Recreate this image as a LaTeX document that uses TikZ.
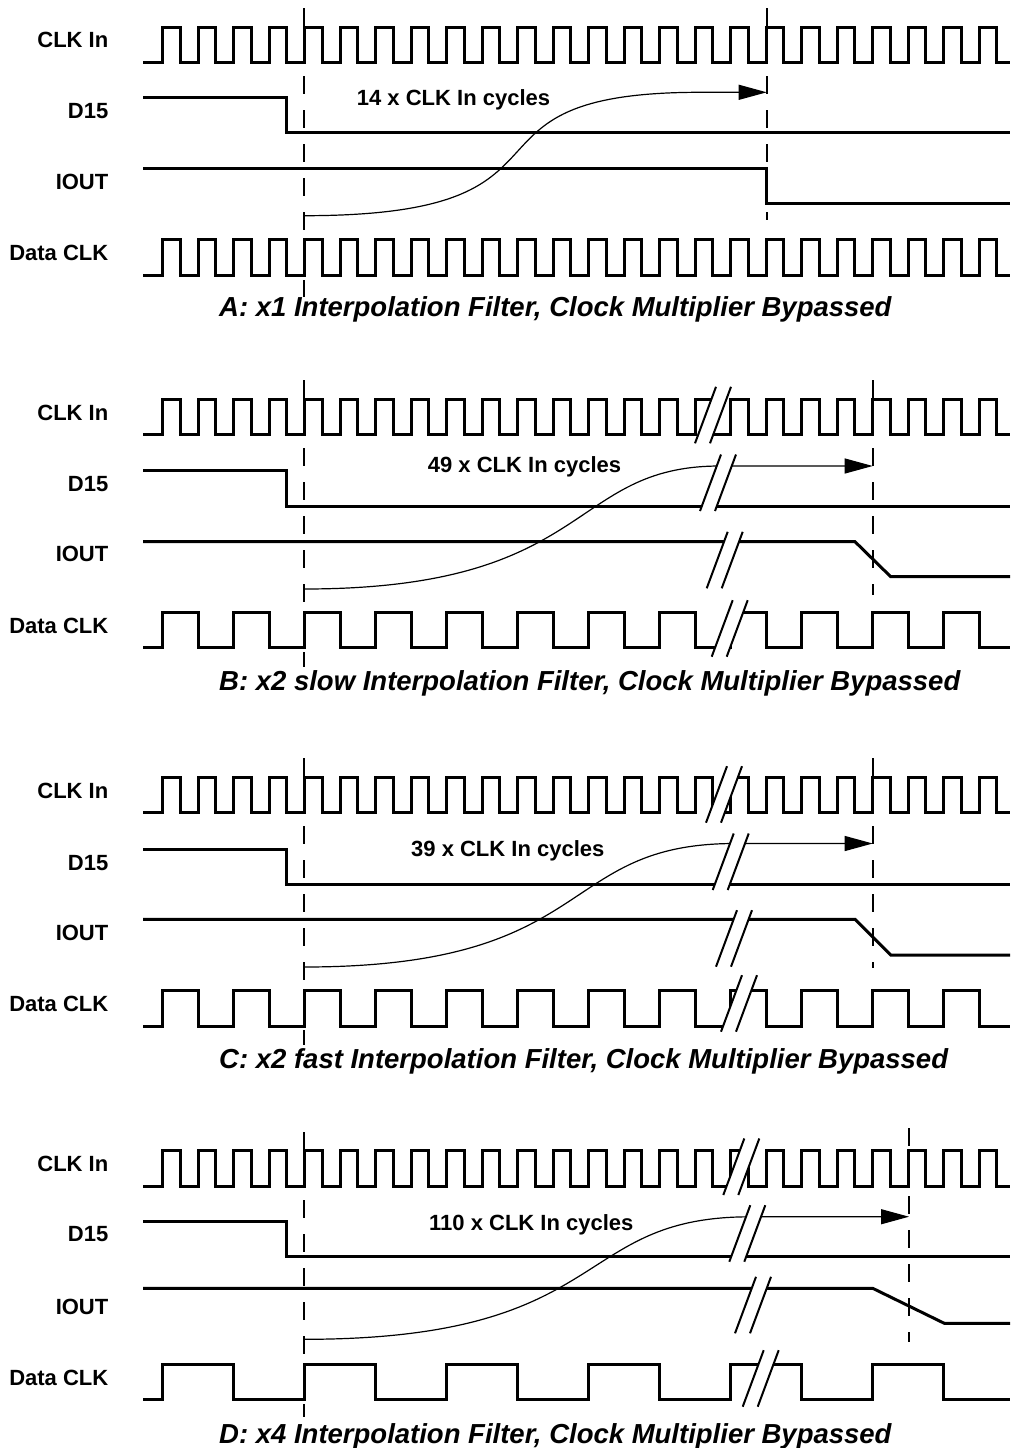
\documentclass[tikz,border=0pt]{standalone}
\usepackage{fontspec}
\setmainfont{Liberation Sans}
\usetikzlibrary{arrows.meta}

\begin{document}
\begin{tikzpicture}[
            x=1pt, y=-1pt,
            wave/.style={line width=3pt},
            guide/.style={line width=2pt, dash pattern=on 18pt off 16pt},
            span/.style={line width=1.2pt, -{Triangle[length=28pt, width=15pt]}},
            cut/.style={line width=2pt},
            sig/.style={anchor=base east, inner sep=0pt, font=\fontsize{22pt}{26pt}\selectfont\bfseries},
            cyc/.style={anchor=base west, inner sep=0pt, font=\fontsize{22pt}{26pt}\selectfont\bfseries},
            caption/.style={anchor=base west, inner sep=0pt, font=\fontsize{27.5pt}{32pt}\selectfont\bfseries\itshape},
            ]
            \useasboundingbox (0,0) rectangle (1011,1448);

            % A: x1
            \begin{scope}[shift={(0,27)}]
            \node[sig] (Aclk) at (108.5,20.7) {CLK In};
            \node[sig] (Ad15) at (108.5,91.3) {D15};
            \node[sig] (Aiout) at (108.5,162.3) {IOUT};
            \node[sig] (Adata) at (108.5,233) {Data CLK};

            \draw[wave] (143,35) \foreach \k in {0,...,23} {-- ({162.5+35.5*\k},35) -- ({162.5+35.5*\k},0) -- ({180.25+35.5*\k},0) -- ({180.25+35.5*\k},35)} -- (1010,35);
            \draw[wave] (143,70.3) -- (286,70.3) -- (286,105.3) -- (1010,105.3);
            \draw[wave] (143,141.3) -- (766.7,141.3) -- (766.7,176.3) -- (1010,176.3);
            \draw[wave] (143,248) \foreach \k in {0,...,23} {-- ({162.5+35.5*\k},248) -- ({162.5+35.5*\k},212.3) -- ({180.25+35.5*\k},212.3) -- ({180.25+35.5*\k},248)} -- (1010,248);

            \draw[guide] (304,-19) -- (304,270);
            \draw[guide] (766.7,-19) -- (766.7,193);

            \coordinate (As) at (304,188.7);
            \coordinate (Am) at (700,65.3);
            \coordinate (At) at (766.7,65.3);
            \draw[span] (As) .. controls +(300,0) and +(-265,0) .. (Am) -- (At);
            \node[cyc] (Acyc) at (356.7,78) {14 x CLK In cycles};

            \node[caption] (Acap) at (219,289.7) {A: x1 Interpolation Filter, Clock Multiplier Bypassed};
            \end{scope}

            % B: x2 slow
            \begin{scope}[shift={(0,399)}]
            \node[sig] (Bclk) at (108.5,21) {CLK In};
            \node[sig] (Bd15) at (108.5,92.7) {D15};
            \node[sig] (Biout) at (108.5,162.7) {IOUT};
            \node[sig] (Bdata) at (108.5,234.3) {Data CLK};

            \draw[wave] (143,35.3) \foreach \k in {0,...,23} {-- ({162.5+35.5*\k},35.3) -- ({162.5+35.5*\k},0) -- ({180.25+35.5*\k},0) -- ({180.25+35.5*\k},35.3)} -- (1010,35.3);
            \draw[wave] (143,71) -- (286,71) -- (286,107) -- (1010,107);
            \draw[wave] (143,142.7) -- (855,142.7) -- (890.7,177.7) -- (1010,177.7);
            \draw[wave] (143,248.7) \foreach \k in {0,...,11} {-- ({162.5+71*\k},248.7) -- ({162.5+71*\k},213.3) -- ({198+71*\k},213.3) -- ({198+71*\k},248.7)} -- (1010,248.7);

            \draw[guide] (304,-19) -- (304,268);
            \draw[guide] (872.7,-19) -- (872.7,196);

            \coordinate (Bs) at (304,190);
            \coordinate (Bm) at (720,67);
            \coordinate (Bt) at (872.7,67);
            \draw[span] (Bs) .. controls +(291,0) and +(-153,0) .. (Bm) -- (Bt);
            \node[cyc] (Bcyc) at (427.7,73.7) {49 x CLK In cycles};

            \foreach \x/\y in {695/44.3, 700/112, 706.7/189.3, 711.7/257.7} {
                \fill[white] (\x,\y) -- ++(21,-56.5) -- ++(15,0) -- ++(-21,56.5) -- cycle;
                \draw[cut] (\x,\y) -- ++(21,-56.5) (\x+15,\y) -- ++(21,-56.5);
            }

            \node[caption] (Bcap) at (219,291) {B: x2 slow Interpolation Filter, Clock Multiplier Bypassed};
            \end{scope}

            % C: x2 fast
            \begin{scope}[shift={(0,777.3)}]
            \node[sig] (Cclk) at (108.5,21) {CLK In};
            \node[sig] (Cd15) at (108.5,92.7) {D15};
            \node[sig] (Ciout) at (108.5,162.7) {IOUT};
            \node[sig] (Cdata) at (108.5,234.3) {Data CLK};

            \draw[wave] (143,35) \foreach \k in {0,...,23} {-- ({162.5+35.5*\k},35) -- ({162.5+35.5*\k},0) -- ({180.25+35.5*\k},0) -- ({180.25+35.5*\k},35)} -- (1010,35);
            \draw[wave] (143,71.7) -- (286,71.7) -- (286,107) -- (1010,107);
            \draw[wave] (143,142) -- (855,142) -- (890.7,177.7) -- (1010,177.7);
            \draw[wave] (143,249.4) \foreach \k in {0,...,11} {-- ({162.5+71*\k},249.4) -- ({162.5+71*\k},212.7) -- ({198+71*\k},212.7) -- ({198+71*\k},249.4)} -- (1010,249.4);

            \draw[guide] (304,-19) -- (304,268);
            \draw[guide] (872.7,-19) -- (872.7,191);

            \coordinate (Cs) at (304,189.7);
            \coordinate (Cm) at (735,66.2);
            \coordinate (Ct) at (872.7,66.2);
            \draw[span] (Cs) .. controls +(296,0) and +(-180,0) .. (Cm) -- (Ct);
            \node[cyc] (Ccyc) at (411,79.4) {39 x CLK In cycles};

            \foreach \x/\y in {706/45.4, 712.7/112.7, 716/189.4, 721/254.4} {
                \fill[white] (\x,\y) -- ++(21,-56.5) -- ++(15,0) -- ++(-21,56.5) -- cycle;
                \draw[cut] (\x,\y) -- ++(21,-56.5) (\x+15,\y) -- ++(21,-56.5);
            }

            \node[caption] (Ccap) at (219,291) {C: x2 fast Interpolation Filter, Clock Multiplier Bypassed};
            \end{scope}

            % D: x4
            \begin{scope}[shift={(0,1150)}]
            \node[sig] (Dclk) at (108.5,21.7) {CLK In};
            \node[sig] (Dd15) at (108.5,91.7) {D15};
            \node[sig] (Diout) at (108.5,164) {IOUT};
            \node[sig] (Ddata) at (108.5,235) {Data CLK};

            \draw[wave] (143,36.7) \foreach \k in {0,...,23} {-- ({162.5+35.5*\k},36.7) -- ({162.5+35.5*\k},0) -- ({180.25+35.5*\k},0) -- ({180.25+35.5*\k},36.7)} -- (1010,36.7);
            \draw[wave] (143,71) -- (286,71) -- (286,106.7) -- (1010,106.7);
            \draw[wave] (143,138.3) -- (872.7,138.3) -- (944.3,173.3) -- (1010,173.3);
            \draw[wave] (143,249.3) \foreach \k in {0,...,5} {-- ({162.5+142*\k},249.3) -- ({162.5+142*\k},214) -- ({233.5+142*\k},214) -- ({233.5+142*\k},249.3)} -- (1010,249.3);

            \draw[guide] (304,-18) -- (304,266.7);
            \draw[guide] (909,-22) -- (909,191.7);

            \coordinate (Ds) at (304,189.3);
            \coordinate (Dm) at (750,66.8);
            \coordinate (Dt) at (909,66.7);
            \draw[span] (Ds) .. controls +(311,0) and +(-180,0) .. (Dm) -- (Dt);
            \node[cyc] (Dcyc) at (429,80) {110 x CLK In cycles};

            \foreach \x/\y in {723.3/45, 729.3/111.7, 735/183.3, 742.7/256.7} {
                \fill[white] (\x,\y) -- ++(21,-56.5) -- ++(15,0) -- ++(-21,56.5) -- cycle;
                \draw[cut] (\x,\y) -- ++(21,-56.5) (\x+15,\y) -- ++(21,-56.5);
            }

            \node[caption] (Dcap) at (219,293.3) {D: x4 Interpolation Filter, Clock Multiplier Bypassed};
            \end{scope}
        \end{tikzpicture}
\end{document}
